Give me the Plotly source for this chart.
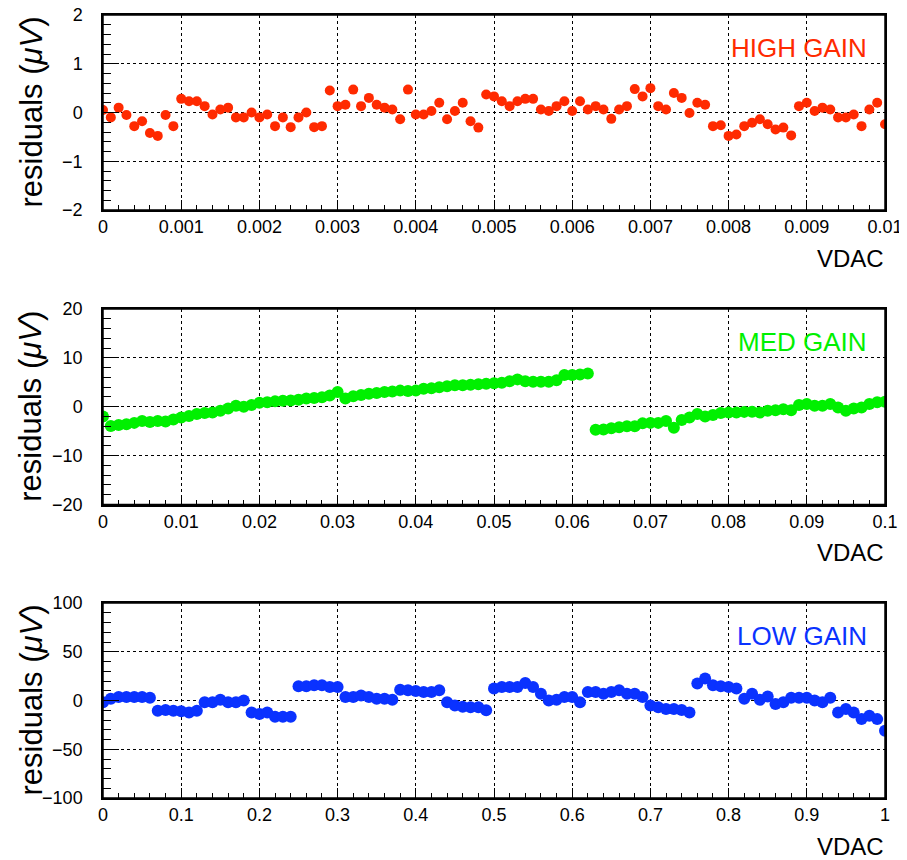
import numpy as np
import plotly.graph_objects as go

# ---------------- data ----------------
high_step = 0.0001
high_gain = [0.05, -0.1, 0.1, -0.05, -0.28, -0.18, -0.42, -0.48, -0.05, -0.28,
             0.28, 0.23, 0.23, 0.13, -0.04, 0.06, 0.1, -0.1, -0.1, 0.0,
             -0.1, -0.04, -0.28, -0.1, -0.3, -0.1, 0.0, -0.3, -0.28, 0.45,
             0.13, 0.16, 0.47, 0.13, 0.3, 0.16, 0.1, 0.06, -0.14, 0.47,
             -0.04, -0.04, 0.03, 0.2, -0.14, 0.03, 0.2, -0.18, -0.31, 0.37,
             0.33, 0.23, 0.13, 0.23, 0.28, 0.28, 0.06, 0.03, 0.13, 0.23,
             0.03, 0.23, 0.06, 0.13, 0.06, -0.13, 0.06, 0.13, 0.48, 0.33,
             0.5, 0.13, 0.06, 0.4, 0.3, -0.01, 0.2, 0.16, -0.28, -0.26,
             -0.48, -0.45, -0.28, -0.21, -0.14, -0.24, -0.35, -0.31, -0.47, 0.13,
             0.2, 0.03, 0.1, 0.06, -0.1, -0.1, -0.04, -0.28, 0.06, 0.2,
             -0.24]

med_step = 0.001
med_gain = [-2.0, -3.96, -3.75, -3.6, -3.3, -2.9, -3.1, -2.9, -3.0, -2.6,
            -2.2, -1.9, -1.5, -1.3, -1.2, -0.8, -0.35, 0.2, 0.0, 0.35,
            0.8, 0.9, 1.1, 1.25, 1.3, 1.45, 1.7, 1.8, 1.95, 2.3,
            3.0, 1.7, 2.15, 2.4, 2.65, 2.8, 3.0, 3.1, 3.3, 3.2,
            3.3, 3.7, 3.8, 4.0, 4.2, 4.4, 4.4, 4.5, 4.6, 4.7,
            4.8, 4.9, 5.2, 5.6, 5.2, 5.1, 5.1, 5.1, 5.4, 6.5,
            6.5, 6.6, 6.8, -4.7, -4.65, -4.4, -4.2, -4.0, -4.0, -3.4,
            -3.3, -3.3, -2.9, -4.3, -2.7, -2.2, -1.5, -2.0, -1.7, -1.3,
            -1.2, -1.2, -1.05, -1.0, -1.2, -0.8, -0.7, -0.5, -0.7, 0.35,
            0.55, 0.2, 0.2, 0.55, -0.15, -0.8, -0.35, -0.15, 0.55, 0.9,
            1.0]

low_step = 0.01
low_gain = [-1.7, 1.7, 3.5, 3.5, 3.5, 3.5, 2.8, -10.4, -9.7, -10.4,
            -11.1, -12.2, -10.4, -1.7, -1.7, 0.7, -1.7, -1.7, 0.0, -12.2,
            -13.9, -12.2, -16.7, -16.7, -16.7, 14.6, 14.6, 15.6, 15.6, 13.9,
            13.9, 3.5, 3.5, 5.2, 3.5, 1.7, 1.7, 0.7, 11.1, 10.4,
            9.7, 8.7, 8.7, 10.4, -1.7, -5.2, -6.3, -6.9, -6.9, -10.0,
            12.2, 13.9, 13.9, 13.9, 18.0, 13.9, 6.9, 0.0, 0.7, 3.5,
            3.5, -1.7, 8.7, 8.7, 6.9, 8.7, 10.4, 6.9, 6.9, 3.5,
            -5.2, -6.9, -8.7, -8.7, -9.7, -12.2, 17.4, 22.6, 15.6, 14.6,
            13.9, 12.2, 1.7, 6.9, 0.7, 4.2, -3.5, -1.7, 2.8, 2.8,
            2.8, 0.0, -1.7, 2.8, -12.2, -8.7, -12.2, -19.1, -15.6, -19.1,
            -31.0]

high_x = [round(i * high_step, 6) for i in range(len(high_gain))]
med_x = [round(i * med_step, 6) for i in range(len(med_gain))]
low_x = [round(i * low_step, 6) for i in range(len(low_gain))]

panel_names = ["HIGH GAIN", "MED GAIN", "LOW GAIN"]
panel_colors = ["#ff2a00", "#00f000", "#0a32ff"]
x_ranges = [[0, 0.01], [0, 0.1], [0, 1]]
x_dticks = [0.001, 0.01, 0.1]
y_ranges = [[-2, 2], [-20, 20], [-100, 100]]
y_dticks = [1, 10, 50]

# ---------------- layout helpers ----------------
PAGE_W, PAGE_H = 907, 860
OFF = 8  # default page body margin
W, H = PAGE_W - OFF, PAGE_H - OFF
FONT = "Liberation Sans, Arial, sans-serif"


def px(x):
    return (x - OFF) / W


def py(y):
    return 1 - (y - OFF) / H


panel_px = [(15, 210), (309, 504.5), (603, 798)]
left_px, right_px = 103, 885

fig = go.Figure()
series = [(high_x, high_gain, 10), (med_x, med_gain, 12), (low_x, low_gain, 12)]

for k, ((xs, ys, msize), color) in enumerate(zip(series, panel_colors)):
    idx = "" if k == 0 else str(k + 1)
    fig.add_trace(go.Scatter(
        x=xs, y=ys, mode="markers",
        marker=dict(color=color, size=msize, line=dict(width=0)),
        xaxis="x" + idx, yaxis="y" + idx, showlegend=False,
        hoverinfo="skip", cliponaxis=True))
    top, bot = panel_px[k]
    axis_common = dict(
        showline=True, linecolor="black", linewidth=1.5, mirror=True,
        showgrid=True, gridcolor="black", gridwidth=1, griddash="dot",
        zeroline=False, ticks="inside", tickcolor="black", tickwidth=1.2,
        tickfont=dict(family=FONT, size=18, color="black"),
        automargin=False, ticklabeloverflow="allow",
    )
    fig.update_layout(**{
        "xaxis" + idx: dict(
            axis_common, domain=[px(left_px), px(right_px)],
            anchor="y" + idx, range=x_ranges[k], dtick=x_dticks[k], tick0=0,
            ticklen=10, ticklabelstandoff=0,
            minor=dict(ticks="inside", ticklen=5, dtick=x_dticks[k] / 5,
                       tick0=0, showgrid=False, tickcolor="black", tickwidth=1.2),
        ),
        "yaxis" + idx: dict(
            axis_common, domain=[py(bot), py(top)],
            anchor="x" + idx, range=y_ranges[k], dtick=y_dticks[k], tick0=0,
            ticklen=16, ticklabelstandoff=15,
            minor=dict(ticks="inside", ticklen=8, dtick=y_dticks[k] / 5,
                       tick0=0, showgrid=False, tickcolor="black", tickwidth=1.2),
        ),
    })
    # frame around the panel
    fig.add_shape(
        type="rect", xref="x" + idx + " domain", yref="y" + idx + " domain",
        x0=0, x1=1, y0=0, y1=1, line=dict(color="black", width=1.5),
        fillcolor="rgba(0,0,0,0)", layer="above")
    # panel label
    fig.add_annotation(
        xref="paper", yref="paper", x=px(869), y=py(top + 33),
        xanchor="right", yanchor="middle", showarrow=False,
        text=panel_names[k], font=dict(family=FONT, size=26, color=color))
    # x title
    fig.add_annotation(
        xref="paper", yref="paper", x=px(886), y=py(bot + 48),
        xanchor="right", yanchor="middle", showarrow=False,
        text="VDAC", font=dict(family=FONT, size=24, color="black"))
    # y title
    fig.add_annotation(
        xref="paper", yref="paper", x=px(31), y=py((top + bot) / 2),
        xanchor="center", yanchor="middle", showarrow=False, textangle=-90,
        text="residuals (<i>μV</i>)", font=dict(family=FONT, size=31, color="black"))

fig.update_layout(
    width=W, height=H,
    margin=dict(l=0, r=0, t=0, b=0, pad=0, autoexpand=False),
    paper_bgcolor="white", plot_bgcolor="white",
    showlegend=False,
)

fig.write_html("out.html")
